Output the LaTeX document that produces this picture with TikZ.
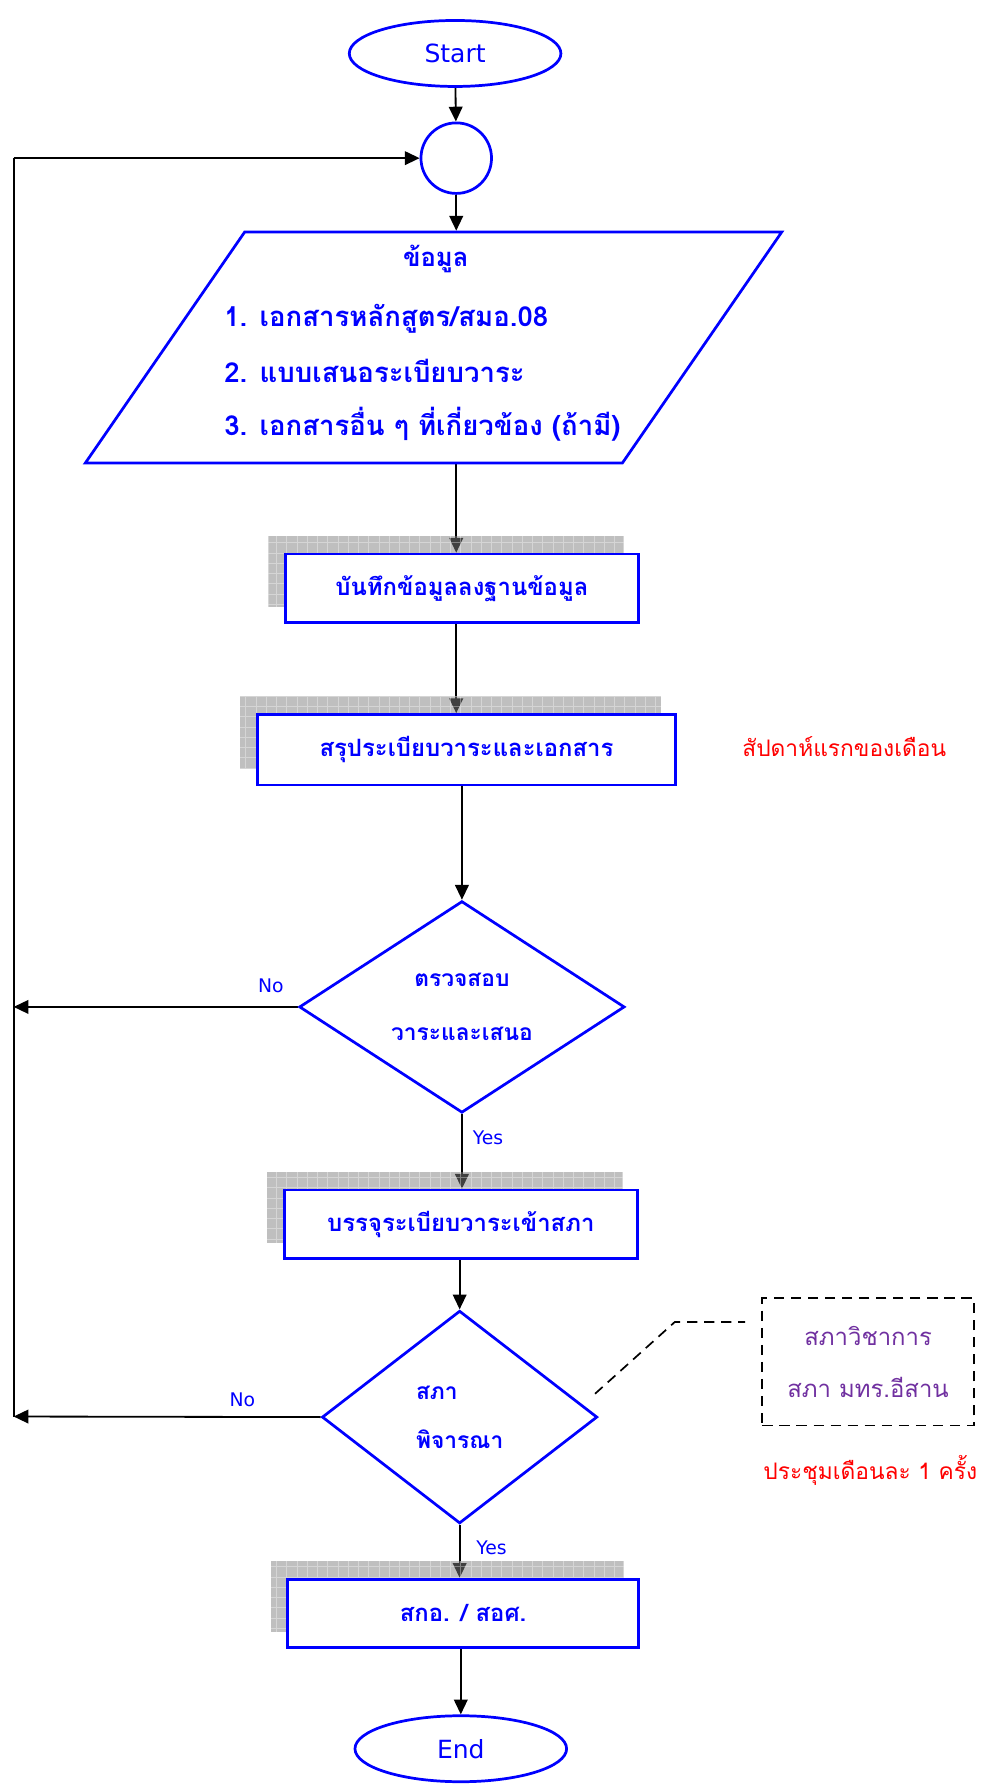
\documentclass[tikz,border=0pt]{standalone}
\usepackage{fontspec}
\setmainfont[Script=Thai]{Loma}
\newfontfamily\latinfont{DejaVu Sans}
\usetikzlibrary{shapes.geometric,arrows.meta,calc}
\definecolor{flowblue}{RGB}{0,0,255}
\definecolor{notepurple}{RGB}{112,48,160}
\pgfdeclarelayer{back}
\pgfdeclarelayer{shade}
\pgfsetlayers{back,shade,main}
\tikzset{
  every node/.style={inner sep=0pt},
  term/.style={ellipse,draw=flowblue,line width=2.4pt,fill=white,
    minimum width=186pt,minimum height=58pt,text=flowblue,
    font=\latinfont\fontsize{22}{26}\selectfont},
  procbox/.style={rectangle,draw=flowblue,line width=2.4pt,fill=white,
    text=flowblue,font=\bfseries\fontsize{21}{25}\selectfont},
  decide/.style={diamond,draw=flowblue,line width=2.4pt,fill=white,
    text=flowblue,align=center},
  bluetxt/.style={text=flowblue,font=\bfseries\fontsize{24.2}{28}\selectfont},
  yesno/.style={text=flowblue,font=\latinfont\fontsize{16.5}{20}\selectfont},
  redtxt/.style={text=red,font=\fontsize{20}{24}\selectfont},
  flow/.style={line width=1.6pt,-{Triangle[length=13pt,width=12pt]}},
  shadowfill/.style={fill=gray,fill opacity=0.5},
  shadowgrid/.style={draw=white,opacity=0.35,line width=0.6pt,step=9pt},
  notelink/.style={line width=1.5pt,dash pattern=on 9pt off 6pt},
}
\begin{document}
\begin{tikzpicture}[x=1pt,y=-1pt]
\useasboundingbox (0,0) rectangle (873,1568);

% terminals and joint
\node[term] (start) at (400,47) {Start};
\node[circle,draw=flowblue,line width=2.4pt,fill=white,minimum size=62pt] (circ) at (401,139) {};

% input data
\node[trapezium,trapezium left angle=55.4,trapezium right angle=124.6,
  draw=flowblue,line width=2.4pt,fill=white] (data) at (381,305.5) {\rule{0pt}{203pt}\hspace*{332pt}};
\node[bluetxt,font=\bfseries\fontsize{22.5}{27}\selectfont] (datahead) at (383,228) {ข้อมูล};
\node[bluetxt,anchor=west] (data1) at (197,280) {1. เอกสารหลักสูตร/สมอ.08};
\node[bluetxt,anchor=west] (data2) at (197,326) {2. แบบเสนอระเบียบวาระ};
\node[bluetxt,anchor=west] (data3) at (197,373) {3. เอกสารอื่น ๆ ที่เกี่ยวข้อง (ถ้ามี)};

% process boxes
\node[procbox,minimum width=310pt,minimum height=60pt] (b1) at (406,517) {บันทึกข้อมูลลงฐานข้อมูล};
\node[procbox,minimum width=368pt,minimum height=62pt] (b2) at (410,659) {สรุประเบียบวาระและเอกสาร};
\node[redtxt] (week) at (742,656) {สัปดาห์แรกของเดือน};

\node[decide,minimum width=286pt,minimum height=186pt,
  font=\bfseries\fontsize{20}{48}\selectfont] (dec1) at (406,885) {ตรวจสอบ\\วาระและเสนอ};

\node[procbox,minimum width=310pt,minimum height=60pt] (b3) at (405,1076) {บรรจุระเบียบวาระเข้าสภา};

\node[decide,minimum width=242pt,minimum height=187pt,align=left,
  font=\bfseries\fontsize{20}{43}\selectfont] (dec2) at (404,1245.5) {สภา\\พิจารณา};

\node[draw,line width=1.5pt,dash pattern=on 9pt off 6pt,minimum width=186pt,minimum height=112pt,
  align=center,text=notepurple,font=\fontsize{21}{45}\selectfont] (note) at (763,1197) {สภาวิชาการ\\สภา มทร.อีสาน};
\node[redtxt] (meet) at (765,1292) {ประชุมเดือนละ 1 ครั้ง};

\node[procbox,minimum width=308pt,minimum height=60pt] (b4) at (407,1418) {สกอ. / สอศ.};
\node[term] (end) at (405,1537) {End};

% labels
\node[yesno] (no1) at (238,866) {No};
\node[yesno] (yes1) at (429,1000) {Yes};
\node[yesno] (no2) at (213,1230) {No};
\node[yesno] (yes2) at (432,1360) {Yes};

% loop back and note link
\coordinate (loopT) at (12,139);
\coordinate (loopB) at (12,1245);
\coordinate (n1) at (523,1225);
\coordinate (n2) at (593,1162);
\coordinate (n3) at (655,1162);

\begin{pgfonlayer}{back}
\draw[flow] (start) -- (circ);
\draw[flow] (circ.south) -- (circ.south |- data.north);
\draw[flow] (circ |- data.south) -- (circ |- b1.north);
\draw[flow] (circ |- b1.south) -- (circ |- b2.north);
\draw[flow] (dec1.north |- b2.south) -- (dec1.north);
\draw[flow] (dec1.south) -- (dec1.south |- b3.north);
\draw[flow] (dec2.north |- b3.south) -- (dec2.north);
\draw[flow] (dec2.south) -- (dec2.south |- b4.north);
\draw[flow] (end.north |- b4.south) -- (end.north);
\draw[line width=1.6pt] (loopB) -- (loopT);
\draw[flow] (loopT) -- (circ.west);
\draw[flow] (dec1.west) -- (dec1.west -| loopT);
\draw[flow] (dec2.west) -- (loopB);
\draw[notelink] (n1) -- (n2) -- (n3);
\end{pgfonlayer}

% shadows
\begin{pgfonlayer}{shade}
\foreach \b in {b1,b2,b3,b4}{
  \begin{scope}
    \clip ($(\b.north west)+(-14,-15)$) rectangle ($(\b.south east)+(-14,-15)$);
    \fill[shadowfill] ($(\b.north west)+(-14,-15)$) rectangle ($(\b.south east)+(-14,-15)$);
    \draw[shadowgrid] ($(\b.north west)+(-14,-15)$) grid ($(\b.south east)+(-14,-15)$);
  \end{scope}
}
\end{pgfonlayer}
\end{tikzpicture}
\end{document}
